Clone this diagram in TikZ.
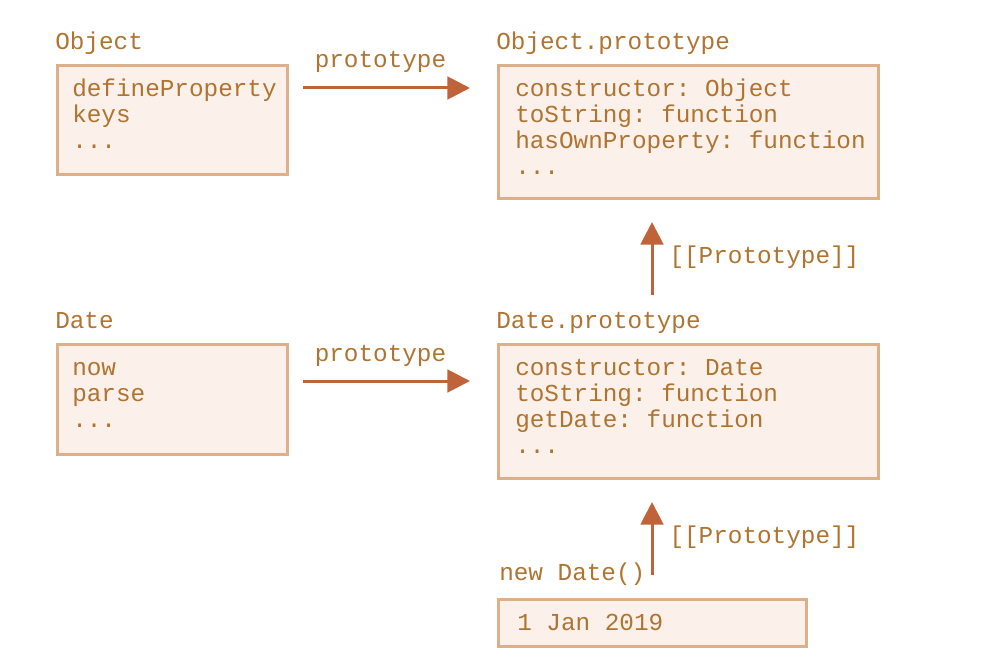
\documentclass[tikz,border=0pt]{standalone}
\usepackage{fontspec}
\setmonofont{Liberation Mono}
\usepackage{xcolor}
\usetikzlibrary{arrows.meta, positioning}

\definecolor{protofill}{HTML}{FBF1EA}
\definecolor{protoline}{HTML}{DEB08A}
\definecolor{prototext}{HTML}{B07330}
\definecolor{protoarrow}{HTML}{C0633A}

\begin{document}
\begin{tikzpicture}[
  x=0.75pt, y=-0.75pt,
  >={Triangle[length=17pt, width=17pt]},
  box/.style={rectangle, draw=protoline, line width=2.25pt, fill=protofill, anchor=north west, inner sep=0pt},
  boxtext/.style={anchor=north west, inner sep=0pt, align=left, text=prototext, font=\ttfamily\fontsize{18.25}{19.5}\selectfont},
  lbl/.style={anchor=base west, inner sep=0pt, text=prototext, font=\ttfamily\fontsize{18.25}{19.5}\selectfont},
  arr/.style={->, draw=protoarrow, line width=2.25pt},
]
  \useasboundingbox (0,0) rectangle (987,663);

  % boxes
  \node[box, minimum width=172.5pt, minimum height=81.75pt] (objbox) at (56,64) {};
  \node[box, minimum width=285pt, minimum height=99.75pt] (opbox) at (497,64) {};
  \node[box, minimum width=172.5pt, minimum height=82.5pt] (datebox) at (56,343) {};
  \node[box, minimum width=285pt, minimum height=100.5pt] (dpbox) at (497,343) {};
  \node[box, minimum width=231pt, minimum height=35.25pt] (newbox) at (497,598) {};

  % box contents
  \node[boxtext] (objtext) at ([shift={(16,14)}]objbox.north west) {\strut defineProperty\\keys\\...};
  \node[boxtext] (optext) at ([shift={(18,14)}]opbox.north west) {\strut constructor: Object\\toString: function\\hasOwnProperty: function\\...};
  \node[boxtext] (datetext) at ([shift={(16,14)}]datebox.north west) {\strut now\\parse\\...};
  \node[boxtext] (dptext) at ([shift={(18,14)}]dpbox.north west) {\strut constructor: Date\\toString: function\\getDate: function\\...};
  \node[boxtext] (newtext) at ([shift={(20,14)}]newbox.north west) {\strut 1 Jan 2019};

  % titles
  \node[lbl] (objlbl) at ([shift={(-1,-14.5)}]objbox.north west) {Object};
  \node[lbl] (oplbl) at ([shift={(-1,-14.5)}]opbox.north west) {Object.prototype};
  \node[lbl] (datelbl) at ([shift={(-1,-14.5)}]datebox.north west) {Date};
  \node[lbl] (dplbl) at ([shift={(-1,-14.5)}]dpbox.north west) {Date.prototype};
  \node[lbl] (newlbl) at ([shift={(2,-18)}]newbox.north west) {new Date()};

  % links
  \draw[arr] ([shift={(14,24)}]objbox.north east) -- ([shift={(-27,24)}]opbox.north west)
    node[lbl, midway, anchor=base, xshift=-4.5pt, yshift=15pt] (objproto) {prototype};
  \draw[arr] ([shift={(14,38)}]datebox.north east) -- ([shift={(-27,38)}]dpbox.north west)
    node[lbl, midway, anchor=base, xshift=-4.5pt, yshift=15pt] (dateproto) {prototype};
  \draw[arr] ([shift={(155,-48)}]dpbox.north west) -- ([shift={(155,22)}]opbox.south west)
    node[lbl, midway, xshift=12pt, yshift=-3.4pt] (dpproto) {[[Prototype]]};
  \draw[arr] ([shift={(155,-23)}]newbox.north west) -- ([shift={(155,22)}]dpbox.south west)
    node[lbl, midway, xshift=12pt, yshift=-3.4pt] (newproto) {[[Prototype]]};
\end{tikzpicture}
\end{document}
